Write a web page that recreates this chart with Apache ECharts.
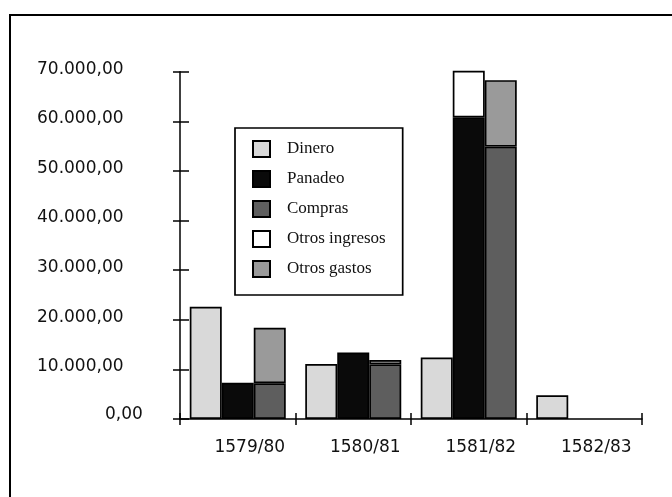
<!DOCTYPE html>
<html>
<head>
<meta charset="utf-8">
<script src="https://cdn.jsdelivr.net/npm/echarts@6/dist/echarts.min.js"></script>
<style>html,body{margin:0;padding:0;background:#fff}#c{width:672px;height:497px}</style>
</head>
<body>
<div id="c"></div>
<script>
var categories = ['1579/80', '1580/81', '1581/82', '1582/83'];
var dinero = [22600, 11100, 12400, 4800];
var panadeo = [7300, 13400, 60800, null];
var compras = [7200, 11000, 54900, null];
var otrosIngresos = [null, null, 10000, null];
var otrosGastos = [11200, 900, 13400, null];
var yTickLabels = ['0,00', '10.000,00', '20.000,00', '30.000,00', '40.000,00', '50.000,00', '60.000,00', '70.000,00'];

var chart = echarts.init(document.getElementById('c'), null, {renderer: 'canvas'});
var sans = 'DejaVu Sans';
var serif = 'Liberation Serif';
var border = {borderColor: '#000', borderWidth: 1.7};
function bar(name, data, stack, color) {
  return {
    name: name, type: 'bar', stack: stack, data: data,
    xAxisIndex: 0, yAxisIndex: 0,
    barWidth: 32, barGap: '0%',
    itemStyle: Object.assign({color: color}, border)
  };
}
var option = {
  animation: false,
  backgroundColor: '#fff',
  grid: {left: 180, right: 30, top: 71.7, bottom: 78, containLabel: false},
  graphic: [{
    type: 'polyline', shape: {points: [[10, 497], [10, 15], [672, 15]]},
    style: {stroke: '#000', lineWidth: 2, fill: null}, z: 10
  }],
  legend: {
    orient: 'vertical', left: 235, top: 128,
    padding: [12, 17, 17, 17], itemGap: 12,
    itemWidth: 17, itemHeight: 16, icon: 'rect',
    borderColor: '#000', borderWidth: 1.7, backgroundColor: '#fff',
    textStyle: {fontFamily: serif, fontSize: 17, color: '#111', padding: [0, 0, 0, 12]},
    data: ['Dinero', 'Panadeo', 'Compras', 'Otros ingresos', 'Otros gastos']
  },
  xAxis: [{
    type: 'category', data: categories, position: 'bottom',
    axisLine: {lineStyle: {color: '#000', width: 1.5}},
    axisTick: {show: true, inside: false, length: 6, lineStyle: {color: '#000', width: 1.5}},
    axisLabel: {margin: 20, fontFamily: sans, fontSize: 17, color: '#111', padding: [0, 0, 0, 24]},
    splitLine: {show: false}
  }, {
    type: 'category', data: categories, position: 'bottom',
    axisLine: {show: false},
    axisTick: {show: true, inside: true, length: 6, lineStyle: {color: '#000', width: 1.5}},
    axisLabel: {show: false}, splitLine: {show: false}
  }],
  yAxis: [{
    type: 'value', min: 0, max: 70000, interval: 10000, position: 'left',
    axisLine: {show: true, lineStyle: {color: '#000', width: 1.5}},
    axisTick: {show: true, inside: false, length: 7, lineStyle: {color: '#000', width: 1.5}},
    splitLine: {show: false},
    axisLabel: {
      align: 'left', margin: 143, fontFamily: sans, fontSize: 17, color: '#111',
      formatter: function (v) {
        var s = yTickLabels[Math.round(v / 10000)];
        return v === 0 ? '{z|' + s + '}' : '{n|' + s + '}';
      },
      rich: {
        z: {fontFamily: sans, fontSize: 17, color: '#111', padding: [0, 0, 8, 68]},
        n: {fontFamily: sans, fontSize: 17, color: '#111', padding: [0, 0, 5, 0]}
      }
    }
  }, {
    type: 'value', min: 0, max: 70000, interval: 10000, position: 'left',
    axisLine: {show: false},
    axisTick: {show: true, inside: true, length: 9, lineStyle: {color: '#000', width: 1.5}},
    axisLabel: {show: false}, splitLine: {show: false}
  }],
  series: [
    bar('Dinero', dinero, 'a', '#d9d9d9'),
    bar('Panadeo', panadeo, 'b', '#0a0a0a'),
    bar('Compras', compras, 'c', '#5e5e5e'),
    bar('Otros ingresos', otrosIngresos, 'b', '#ffffff'),
    bar('Otros gastos', otrosGastos, 'c', '#9a9a9a')
  ]
};
chart.setOption(option);
</script>
</body>
</html>
